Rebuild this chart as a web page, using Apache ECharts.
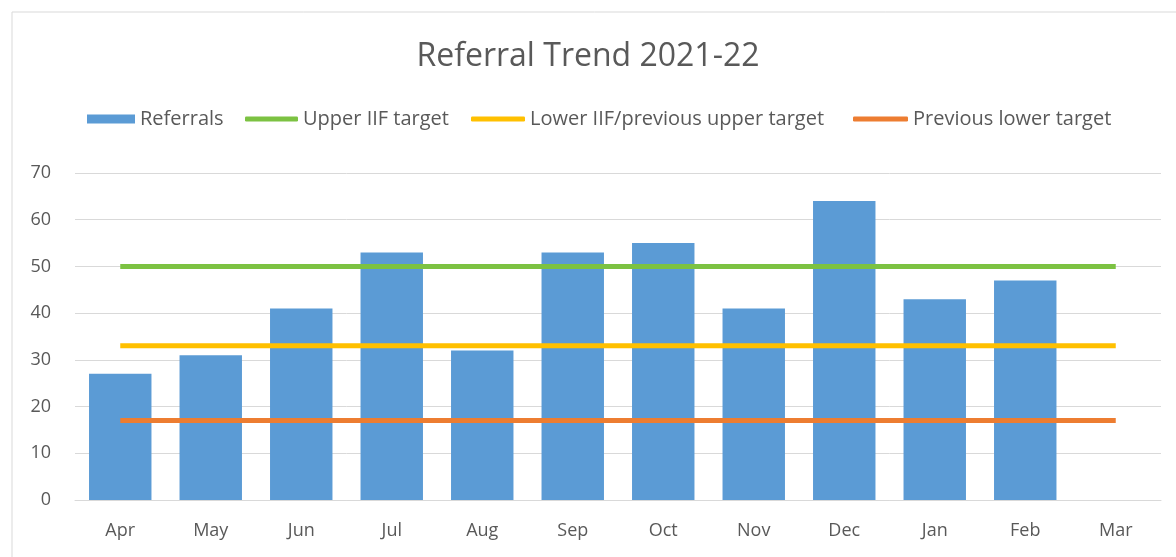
<!DOCTYPE html>
<html>
<head>
<meta charset="utf-8">
<script src="https://cdn.jsdelivr.net/npm/echarts@6/dist/echarts.min.js"></script>
<style>
html,body{margin:0;padding:0;background:#fff;}
#chart{width:1176px;height:557px;}
</style>
</head>
<body>
<div id="chart"></div>
<script>
const categories = ['Apr','May','Jun','Jul','Aug','Sep','Oct','Nov','Dec','Jan','Feb','Mar'];
const referrals = [27, 31, 41, 53, 32, 53, 55, 41, 64, 43, 47, null];
const upperIIF = [50, 50, 50, 50, 50, 50, 50, 50, 50, 50, 50, 50];
const lowerIIF = [33, 33, 33, 33, 33, 33, 33, 33, 33, 33, 33, 33];
const prevLower = [17, 17, 17, 17, 17, 17, 17, 17, 17, 17, 17, 17];
const yTicks = [0, 10, 20, 30, 40, 50, 60, 70];
const seriesNames = ['Referrals', 'Upper IIF target', 'Lower IIF/previous upper target', 'Previous lower target'];
const seriesColors = ['#5b9bd5', '#7cc242', '#ffc000', '#ed7d31'];

const FONT = 'Open Sans';
const TXT = '#595959';
const chart = echarts.init(document.getElementById('chart'), null, {renderer: 'canvas'});
const lineSeries = (i, data) => ({
  name: seriesNames[i], type: 'line', data, symbol: 'none', showSymbol: false,
  lineStyle: {color: seriesColors[i], width: 5}, itemStyle: {color: seriesColors[i]}, z: 3
});
const legendItem = (i, left, w, h, icon) => ({
  top: 109, left, itemWidth: w, itemHeight: h, icon, padding: 0,
  textStyle: {fontFamily: FONT, fontSize: 20, color: TXT},
  data: [seriesNames[i]]
});
chart.setOption({
  animation: false,
  backgroundColor: '#fff',
  graphic: [{
    type: 'rect', shape: {x: 12, y: 12, width: 1180, height: 560},
    style: {fill: 'none', stroke: '#d9d9d9', lineWidth: 1}, z: -1
  }],
  title: {
    text: 'Referral Trend 2021-22', left: 'center', top: 36,
    textStyle: {fontFamily: FONT, fontSize: 32, fontWeight: 'normal', color: TXT}
  },
  legend: [
    legendItem(0, 87, 48, 9, 'rect'),
    legendItem(1, 245, 53, 5, 'roundRect'),
    legendItem(2, 471, 54, 5, 'roundRect'),
    legendItem(3, 853, 55, 5, 'roundRect')
  ],
  grid: {left: 75, right: 15, top: 173, bottom: 57, containLabel: false},
  xAxis: {
    type: 'category', data: categories,
    axisLine: {lineStyle: {color: '#d9d9d9'}}, axisTick: {show: false},
    axisLabel: {fontFamily: FONT, fontSize: 18, color: TXT, margin: 22}
  },
  yAxis: {
    type: 'value', min: yTicks[0], max: yTicks[yTicks.length - 1], interval: 10,
    axisLine: {show: false}, axisTick: {show: false},
    splitLine: {lineStyle: {color: '#d9d9d9', width: 1}},
    axisLabel: {fontFamily: FONT, fontSize: 18, color: TXT, margin: 24}
  },
  series: [
    {name: seriesNames[0], type: 'bar', data: referrals, barCategoryGap: '31%',
     itemStyle: {color: seriesColors[0]}, z: 2},
    lineSeries(1, upperIIF),
    lineSeries(2, lowerIIF),
    lineSeries(3, prevLower)
  ]
});
</script>
</body>
</html>
